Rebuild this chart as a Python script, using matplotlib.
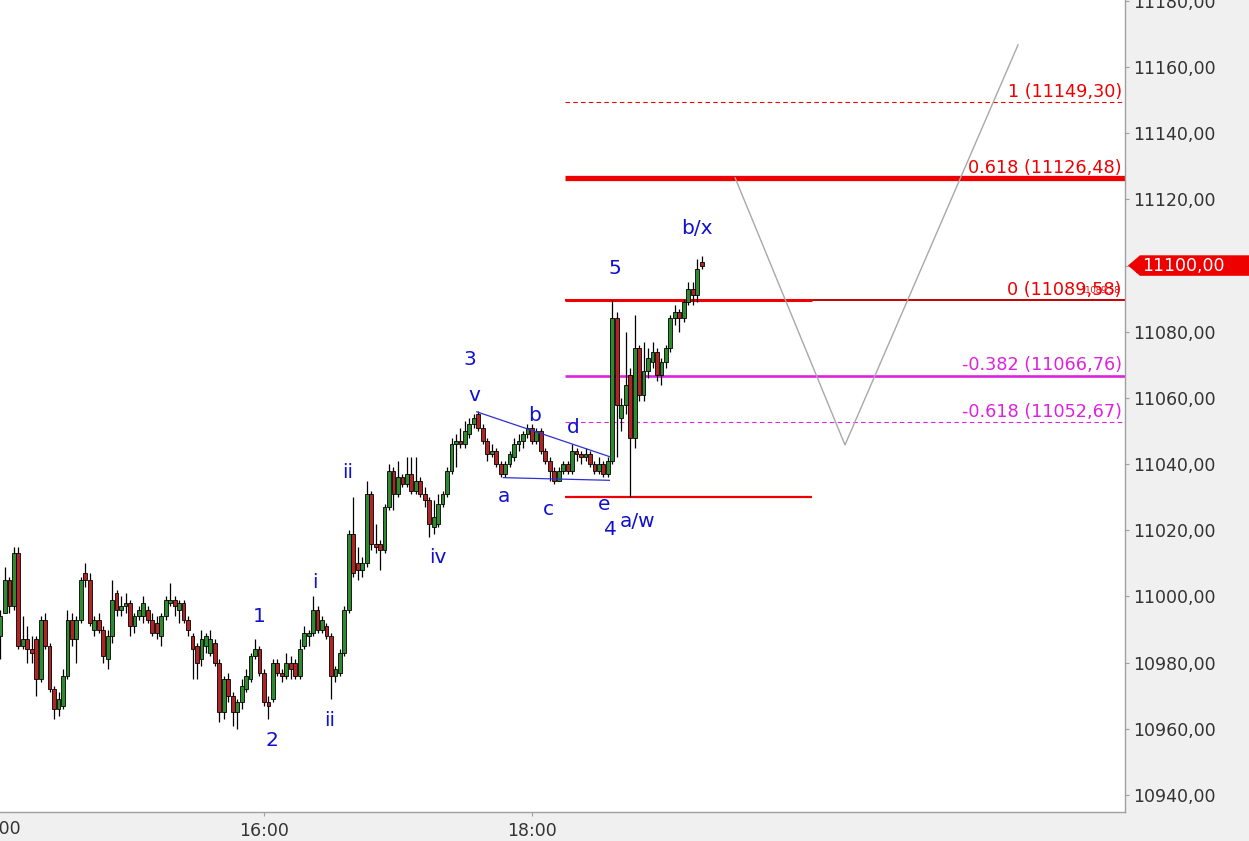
#!/usr/bin/env python3
"""
DAX intraday (2-min candles) with Elliott wave count and Fibonacci targets.
"""

import numpy as np
import pandas as pd
import matplotlib
matplotlib.use('Agg')
import matplotlib.pyplot as plt
import matplotlib.transforms as mtransforms
from matplotlib.patches import Polygon
from matplotlib.ticker import FuncFormatter

# candles, 2-minute bars from 14:02
opens = [10988, 10995, 11005, 10997, 11013, 10985, 10987, 10984, 10987, 10975,
         10993, 10985, 10972, 10966, 10967, 10976, 10993, 10987, 10993, 11007,
         11005, 10990, 10993, 10990, 10981, 10988, 11001, 10996, 10997, 10998,
         10991, 10994, 10994, 10996, 10993, 10992, 10988, 10994, 10998, 10999,
         10996, 10998, 10993, 10988, 10985, 10981, 10985, 10983, 10986, 10980,
         10965, 10975, 10970, 10965, 10968, 10972, 10975, 10982, 10984, 10977,
         10968, 10969, 10980, 10977, 10976, 10980, 10980, 10976, 10985, 10988,
         10989, 10996, 10990, 10991, 10988, 10976, 10977, 10983, 10996, 11019,
         11010, 11008, 11010, 11031, 11016, 11016, 11014, 11027, 11038, 11031,
         11036, 11034, 11037, 11032, 11035, 11031, 11029, 11021, 11022, 11028,
         11031, 11038, 11046, 11047, 11046, 11049, 11052, 11055, 11051, 11047,
         11043, 11044, 11040, 11037, 11040, 11042, 11046, 11047, 11049, 11051,
         11047, 11050, 11044, 11041, 11038, 11035, 11038, 11040, 11038, 11044,
         11043, 11042, 11043, 11040, 11038, 11040, 11037, 11041, 11084, 11054,
         11058, 11067, 11048, 11075, 11061, 11068, 11071, 11074, 11067, 11071,
         11075, 11084, 11086, 11084, 11089, 11093, 11091, 11101]
highs = [10996, 11009, 11006, 11015, 11015, 10994, 10991, 10988, 10988, 10994,
         10995, 10986, 10973, 10971, 10978, 10996, 10995, 10994, 11006, 11010,
         11007, 10994, 10995, 10991, 10990, 11005, 11002, 11000, 11001, 10999,
         10995, 10997, 11000, 10997, 10995, 10994, 10995, 11000, 11004, 11000,
         10999, 10999, 10994, 10989, 10986, 10990, 10989, 10990, 10987, 10981,
         10976, 10977, 10971, 10969, 10975, 10978, 10983, 10987, 10985, 10978,
         10970, 10981, 10981, 10978, 10983, 10982, 10981, 10987, 10991, 10990,
         11000, 10997, 10994, 10992, 10989, 10979, 10984, 10997, 11020, 11030,
         11015, 11012, 11035, 11032, 11022, 11017, 11028, 11040, 11039, 11041,
         11037, 11042, 11042, 11042, 11036, 11033, 11030, 11029, 11031, 11032,
         11039, 11048, 11049, 11051, 11053, 11054, 11055, 11056, 11052, 11048,
         11046, 11045, 11041, 11041, 11044, 11048, 11049, 11050, 11052, 11052,
         11051, 11051, 11045, 11042, 11039, 11039, 11041, 11041, 11046, 11045,
         11044, 11045, 11044, 11041, 11042, 11041, 11042, 11089.5, 11086, 11060,
         11080, 11069, 11085, 11076, 11077, 11075, 11077, 11075, 11072, 11076,
         11085, 11088, 11087, 11090, 11095, 11095, 11102, 11103]
lows = [10981, 10995, 10995, 10996, 10984, 10984, 10980, 10980, 10970, 10974,
        10984, 10971, 10963, 10964, 10966, 10975, 10985, 10980, 10992, 11003,
        10991, 10988, 10989, 10980, 10978, 10986, 10994, 10994, 10995, 10988,
        10989, 10993, 10992, 10992, 10988, 10987, 10985, 10993, 10997, 10994,
        10992, 10992, 10988, 10975, 10975, 10979, 10983, 10982, 10979, 10962,
        10963, 10968, 10961, 10960, 10966, 10971, 10974, 10981, 10976, 10967,
        10963, 10968, 10976, 10974, 10975, 10975, 10975, 10975, 10984, 10985,
        10988, 10989, 10989, 10987, 10969, 10974, 10976, 10982, 10995, 11006,
        11005, 11006, 11009, 11014, 11013, 11008, 11013, 11026, 11026, 11030,
        11033, 11033, 11031, 11031, 11030, 11027, 11018, 11019, 11021, 11027,
        11030, 11037, 11039, 11045, 11045, 11048, 11051, 11050, 11046, 11041,
        11042, 11039, 11036, 11036, 11039, 11041, 11044, 11045, 11048, 11046,
        11046, 11043, 11040, 11035, 11034, 11035, 11037, 11037, 11037, 11041,
        11040, 11041, 11039, 11037, 11037, 11036, 11036, 11040, 11042, 11050,
        11055, 11030, 11045, 11059, 11059, 11066, 11069, 11065, 11064, 11069,
        11074, 11082, 11080, 11083, 11088, 11088, 11089, 11099]
closes = [10994, 11005, 10997, 11013, 10985, 10987, 10984, 10983, 10975, 10993,
          10985, 10972, 10966, 10969, 10976, 10993, 10987, 10993, 11005, 11005,
          10992, 10993, 10990, 10982, 10988, 10999, 10996, 10997, 10998, 10991,
          10994, 10996, 10998, 10993, 10989, 10989, 10994, 10999, 10999, 10997,
          10998, 10993, 10990, 10984, 10980, 10987, 10988, 10987, 10980, 10965,
          10975, 10970, 10965, 10968, 10973, 10976, 10982, 10984, 10977, 10968,
          10967, 10980, 10977, 10976, 10980, 10978, 10976, 10984, 10989, 10989,
          10996, 10990, 10993, 10988, 10976, 10978, 10983, 10996, 11019, 11007,
          11008, 11010, 11031, 11016, 11015, 11014, 11027, 11038, 11031, 11036,
          11034, 11037, 11032, 11035, 11031, 11029, 11022, 11024, 11028, 11031,
          11038, 11046, 11047, 11046, 11050, 11052, 11054, 11051, 11047, 11043,
          11044, 11040, 11037, 11040, 11043, 11046, 11047, 11049, 11051, 11047,
          11050, 11044, 11041, 11038, 11035, 11038, 11040, 11038, 11044, 11043,
          11042, 11043, 11040, 11038, 11040, 11037, 11041, 11084, 11058, 11058,
          11064, 11048, 11075, 11061, 11068, 11072, 11074, 11067, 11071, 11075,
          11084, 11086, 11084, 11089, 11093, 11091, 11099, 11100]

# fibonacci projection levels
fib_ratios = ['1', '0.618', '0', '-0.382', '-0.618']
fib_levels = [11149.30, 11126.48, 11089.58, 11066.76, 11052.67]
wave_a_low = 11030.0

# wave labels: (text, minutes after 14:00, price)
wave_labels = [
    ('1', 117.8, 10993.8), ('2', 123.6, 10956.6),
    ('i', 142.9, 11004.1), ('ii', 149.6, 10962.4),
    ('ii', 157.6, 11037.6), ('iv', 197.9, 11011.9),
    ('3', 212.3, 11071.5), ('v', 214.1, 11060.6),
    ('a', 227.5, 11030.1), ('b', 241.4, 11054.8),
    ('c', 247.2, 11026.4), ('d', 258.4, 11051.2),
    ('e', 272.3, 11027.9), ('4', 275.0, 11020.1),
    ('a/w', 287.1, 11022.5), ('5', 277.2, 11099.0),
    ('b/x', 313.9, 11111.3),
]

# triangle boundaries
tri_upper_t = [215.3, 275.0]
tri_upper_p = [11055.8, 11042.2]
tri_lower_t = [227.2, 274.7]
tri_lower_p = [11035.9, 11035.1]

# expected path
path_t = [331.0, 380.2, 457.7]
path_p = [11126.5, 11045.8, 11166.7]

fib_start = 254.8     # minutes after 14:00 where the fib lines start
short_end = 365.4     # end of the short red lines

BLUE = '#1010d0'
RED = '#ee0000'
MAGENTA = '#dd22dd'


def price_fmt(v, pos=None):
    return f"{v:.2f}".replace('.', ',')


def main():
    times = pd.date_range('2018-01-01 14:02', periods=len(closes), freq='2min')
    t = ((times - pd.Timestamp('2018-01-01 14:00')).total_seconds() / 60).to_numpy()
    o = np.array(opens, float)
    h = np.array(highs, float)
    l = np.array(lows, float)
    c = np.array(closes, float)

    fig = plt.figure(figsize=(12.49, 8.41), dpi=100, facecolor='#f0f0f0')
    ax = fig.add_axes([0, 29 / 841, 1125 / 1249, 812 / 841])
    ax.set_facecolor('white')

    xmin, xmax = 1.79, 505.6
    ax.set_xlim(xmin, xmax)
    ax.set_ylim(10934.86, 11180.25)

    # candles
    up = c >= o
    ax.vlines(t, l, h, color='black', lw=0.9, zorder=3)
    body_lo = np.minimum(o, c)
    body_h = np.maximum(np.abs(c - o), 0.8)
    colors = np.where(up, '#2f8a2f', '#b02424')
    ax.bar(t, body_h, bottom=body_lo, width=1.7, color=colors,
           edgecolor='black', linewidth=0.6, zorder=4)

    # fibonacci lines
    styles = [
        dict(color=RED, lw=0.8, ls=(0, (4, 3))),
        dict(color=RED, lw=3.8, ls='-'),
        dict(color='#c80000', lw=1.4, ls='-'),
        dict(color=MAGENTA, lw=1.9, ls='-'),
        dict(color=MAGENTA, lw=0.8, ls=(0, (4, 3))),
    ]
    txt_tr = mtransforms.blended_transform_factory(ax.transAxes, ax.transData)
    for ratio, lvl, st in zip(fib_ratios, fib_levels, styles):
        ax.hlines(lvl, fib_start, xmax, zorder=2, **st)
        ax.text(0.997, lvl + 0.4, f"{ratio} ({price_fmt(lvl)})", transform=txt_tr,
                ha='right', va='bottom', color=st['color'] if ratio != '0' else RED,
                fontsize=12.7, zorder=5)
    ax.text(0.995, fib_levels[2] + 1.5, price_fmt(fib_levels[2]), transform=txt_tr,
            ha='right', va='bottom', color=RED, fontsize=6, zorder=5)
    ax.hlines(fib_levels[2], fib_start, short_end, color=RED, lw=2.2, zorder=2)
    ax.hlines(wave_a_low, fib_start, short_end, color=RED, lw=1.6, zorder=2)

    # triangle and projected path
    ax.plot(tri_upper_t, tri_upper_p, color='#3030d0', lw=0.9, zorder=5)
    ax.plot(tri_lower_t, tri_lower_p, color='#3030d0', lw=0.9, zorder=5)
    ax.plot(path_t, path_p, color='#a8a8a8', lw=1.0, zorder=2)

    for s, x, y in wave_labels:
        ax.text(x, y, s, color=BLUE, fontsize=14.5, ha='center', va='center', zorder=6)

    # axes styling
    for side in ('top', 'left'):
        ax.spines[side].set_visible(False)
    for side in ('right', 'bottom'):
        ax.spines[side].set_color('#a0a0a0')
        ax.spines[side].set_linewidth(1.0)

    ax.yaxis.tick_right()
    ax.set_yticks(np.arange(10940, 11181, 20))
    ax.yaxis.set_major_formatter(FuncFormatter(price_fmt))
    ax.tick_params(axis='y', direction='out', length=3, color='#a0a0a0',
                   labelsize=12.5, labelcolor='#333333', pad=3)

    ax.set_xticks([120, 240])
    ax.set_xticklabels(['16:00', '18:00'])
    ax.tick_params(axis='x', direction='out', length=3, color='#a0a0a0',
                   labelsize=12.5, labelcolor='#333333', pad=4)
    lbl_tr = mtransforms.blended_transform_factory(ax.transData, ax.transAxes)
    ax.text(0, -0.021, '14:00', transform=lbl_tr, ha='center', va='center',
            fontsize=12.5, color='#333333', clip_on=False)

    # last price tag
    last = c[-1]
    tag_tr = mtransforms.blended_transform_factory(fig.transFigure, ax.transData)
    x0, x1 = 1128 / 1249, 1140 / 1249
    dy = 3.1
    tag = Polygon([(x0, last), (x1, last + dy), (1.0, last + dy),
                   (1.0, last - dy), (x1, last - dy)], closed=True,
                  facecolor=RED, edgecolor='none', transform=tag_tr, clip_on=False)
    fig.add_artist(tag)
    fig.text(1142 / 1249, last, price_fmt(last), transform=tag_tr, color='white',
             fontsize=12.5, ha='left', va='center')

    fig.savefig('out.png', dpi=100, facecolor=fig.get_facecolor())


if __name__ == '__main__':
    main()
